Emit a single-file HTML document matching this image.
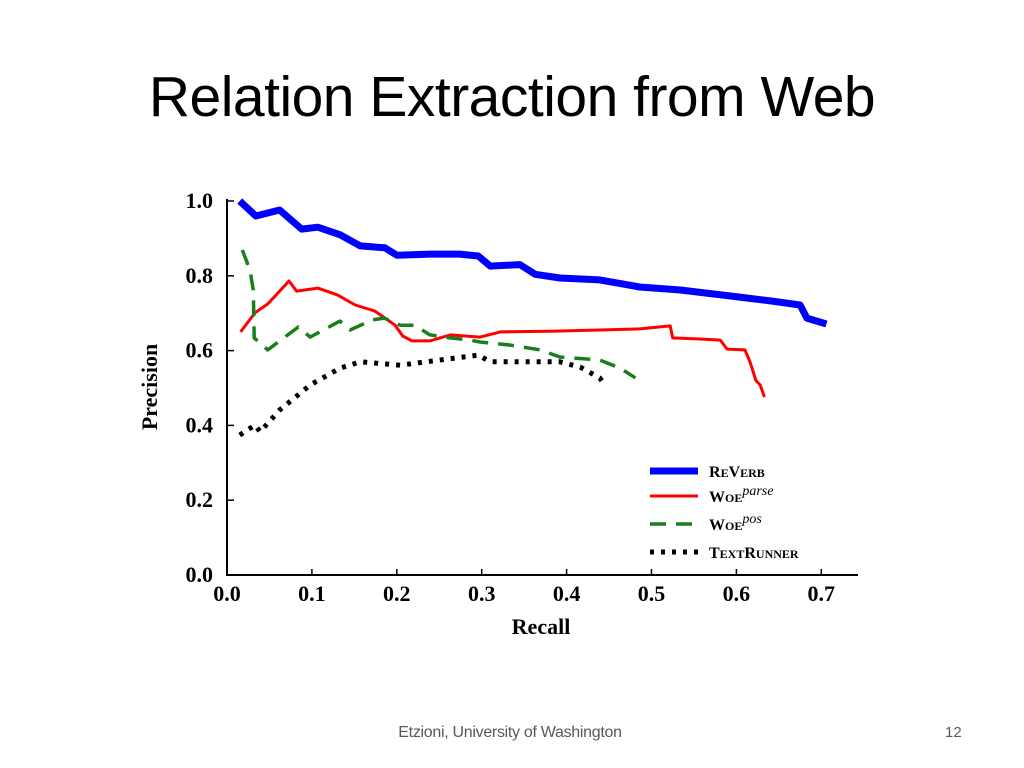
<!DOCTYPE html>
<html><head><meta charset="utf-8"><style>
body{margin:0;width:1024px;height:768px;background:#fff;overflow:hidden;position:relative;font-family:"Liberation Sans",sans-serif}
#title{position:absolute;left:0;width:1024px;top:64px;text-align:center;font-size:57px;color:#000;letter-spacing:-0.5px}
#foot{position:absolute;left:392px;width:236px;text-align:center;top:724px;font-size:16px;color:#595959;letter-spacing:-0.3px}
#num{position:absolute;left:945px;top:724px;font-size:15px;color:#595959}
svg{position:absolute;left:0;top:0}
</style></head><body>
<div id="title">Relation Extraction from Web</div>
<div id="foot">Etzioni, University of Washington</div>
<div id="num">12</div>
<svg id="chart" width="1024" height="768"></svg>
<script>
const xTicks=[0,0.1,0.2,0.3,0.4,0.5,0.6,0.7];
const yTicks=[0,0.2,0.4,0.6,0.8,1.0];
const reverbR=[0.015,0.034,0.062,0.088,0.107,0.133,0.157,0.186,0.2,0.239,0.274,0.296,0.31,0.345,0.363,0.392,0.439,0.486,0.534,0.604,0.64,0.675,0.683,0.706];
const reverbP=[1.0,0.96,0.976,0.925,0.93,0.91,0.88,0.875,0.855,0.858,0.858,0.853,0.826,0.83,0.804,0.794,0.789,0.77,0.762,0.743,0.733,0.722,0.687,0.671];
const parseR=[0.016,0.033,0.048,0.073,0.082,0.107,0.13,0.151,0.174,0.198,0.207,0.218,0.239,0.263,0.298,0.322,0.38,0.439,0.486,0.522,0.525,0.557,0.581,0.589,0.61,0.616,0.623,0.628,0.633];
const parseP=[0.65,0.701,0.725,0.786,0.759,0.767,0.749,0.722,0.706,0.668,0.639,0.626,0.626,0.642,0.636,0.65,0.652,0.655,0.658,0.666,0.634,0.631,0.628,0.604,0.602,0.57,0.52,0.508,0.476];
const posR=[0.018,0.027,0.031,0.032,0.048,0.084,0.098,0.133,0.145,0.171,0.185,0.204,0.221,0.239,0.263,0.286,0.298,0.333,0.369,0.392,0.439,0.463,0.481];
const posP=[0.869,0.816,0.762,0.634,0.602,0.663,0.636,0.679,0.655,0.682,0.687,0.668,0.668,0.642,0.634,0.628,0.623,0.615,0.602,0.583,0.575,0.553,0.527];
const trR=[0.015,0.033,0.039,0.062,0.098,0.133,0.157,0.204,0.251,0.296,0.31,0.345,0.392,0.416,0.439,0.446];
const trP=[0.374,0.401,0.383,0.441,0.508,0.553,0.57,0.561,0.575,0.588,0.57,0.57,0.57,0.556,0.527,0.505];
const X=r=>227+r*849, Y=p=>575-p*374;
const svg=document.getElementById('chart');const NS='http://www.w3.org/2000/svg';
function el(t,a,txt){const e=document.createElementNS(NS,t);for(const k in a)e.setAttribute(k,a[k]);if(txt!==undefined)e.textContent=txt;svg.appendChild(e);return e;}
const ax=el('path',{d:'M227,199 V575 H858',stroke:'#000','stroke-width':2,fill:'none'});


xTicks.forEach(v=>{const t=el('line',{x1:X(v),x2:X(v),y1:575,y2:569,stroke:'#000','stroke-width':1.5});


const l=el('text',{x:X(v),y:601,'text-anchor':'middle','font-family':'Liberation Serif,serif','font-weight':'bold','font-size':22},v.toFixed(1));

});
yTicks.forEach(v=>{const t=el('line',{x1:227,x2:234,y1:Y(v),y2:Y(v),stroke:'#000','stroke-width':1.5});


const l=el('text',{x:213,y:Y(v)+7,'text-anchor':'end','font-family':'Liberation Serif,serif','font-weight':'bold','font-size':22},v.toFixed(1));

});
const xt=el('text',{x:541,y:634,'text-anchor':'middle','font-family':'Liberation Serif,serif','font-weight':'bold','font-size':22},'Recall');


const yt=el('text',{x:0,y:0,transform:'translate(157,387) rotate(-90)','text-anchor':'middle','font-family':'Liberation Serif,serif','font-weight':'bold','font-size':22},'Precision');


function series(R,P,style,name){const d=R.map((r,i)=>(i?'L':'M')+X(r).toFixed(1)+','+Y(P[i]).toFixed(1)).join(' ');
const s=el('path',Object.assign({d:d,fill:'none','stroke-linejoin':'round'},style));

}
const stRe={stroke:'#0000ff','stroke-width':7};
const stPa={stroke:'#ff0000','stroke-width':3};
const stPo={stroke:'#1a7f1a','stroke-width':3.5,'stroke-dasharray':'16,10'};
const stTr={stroke:'#000','stroke-width':5,'stroke-dasharray':'4,7'};
series(reverbR,reverbP,stRe,'reverb-line');
series(parseR,parseP,stPa,'woe-parse-line');
series(posR,posP,stPo,'woe-pos-line');
series(trR,trP,stTr,'textrunner-line');
const leg=[[stRe,471,'R','E','V','ERB',''],[stPa,496,'W','OE','','','parse'],[stPo,524,'W','OE','','','pos'],[stTr,552,'T','EXT','R','UNNER','']];
leg.forEach(g=>{const l=el('line',Object.assign({x1:650,x2:698,y1:g[1],y2:g[1]},g[0]));


const t=el('text',{x:709,y:g[1]+6,'font-family':'Liberation Serif,serif','font-weight':'bold','font-size':16});
t.innerHTML='<tspan>'+g[2]+'</tspan><tspan font-size="12">'+g[3]+'</tspan><tspan>'+g[4]+'</tspan><tspan font-size="12">'+g[5]+'</tspan>'+(g[6]?'<tspan font-style="italic" font-weight="normal" font-size="14" dy="-7">'+g[6]+'</tspan>':'');

});
</script>
</body></html>
